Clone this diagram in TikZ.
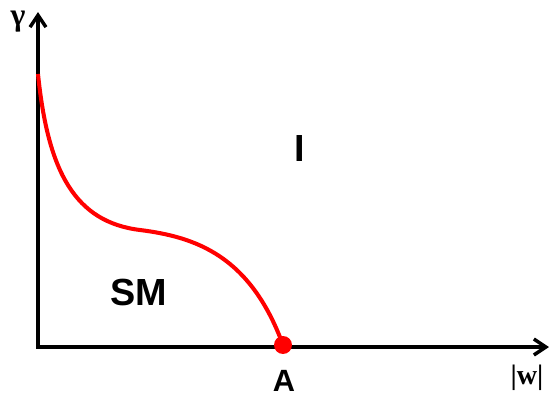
\documentclass[tikz,border=0pt]{standalone}
\usepackage{fontspec}
\setmainfont{Liberation Serif}
\setsansfont{Liberation Sans}
\usetikzlibrary{arrows.meta, positioning}
\definecolor{cred}{HTML}{FF0000}
\tikzset{
  axis/.style={-{Straight Barb[length=2.4mm, width=3.2mm, line width=2pt]}, line width=2pt, black},
  phase/.style={draw=cred, line width=2.3pt},
  region/.style={font=\sffamily\bfseries\fontsize{21.5}{24}\selectfont},
  alabel/.style={font=\bfseries\fontsize{16}{18}\selectfont},
}
\begin{document}
\begin{tikzpicture}[x=0.02cm, y=-0.02cm]
  \useasboundingbox (0,0) rectangle (549,396);

  % axes
  \coordinate (o) at (38,347);
  \coordinate (ytop) at (38,12);
  \coordinate (xend) at (549,347);
  \draw[axis] ([yshift=-1pt]o) -- (ytop);
  \draw[axis] ([xshift=-1pt]o) -- (xend);
  \node[alabel, font=\bfseries\fontsize{18}{20}\selectfont] (gam) at (18,22) {γ};
  \node[alabel] (absw) at (527,378) {|w|};

  % phase boundary
  \coordinate (s) at (38,74);
  \coordinate (m) at (140,230);
  \fill[cred] (283,345) circle (0.18cm) coordinate (pa);
  \draw[phase] (s) .. controls (48,172) and (75,222) .. (m)
               .. controls (195,237) and (250,255) .. (pa);

  % labels
  \node[region] (sm) at (139,292) {SM};
  \node[region] (ins) at (300,149) {I};
  \node[region, font=\sffamily\bfseries\fontsize{17.5}{20}\selectfont] (lab) at (284,381) {A};
\end{tikzpicture}
\end{document}
